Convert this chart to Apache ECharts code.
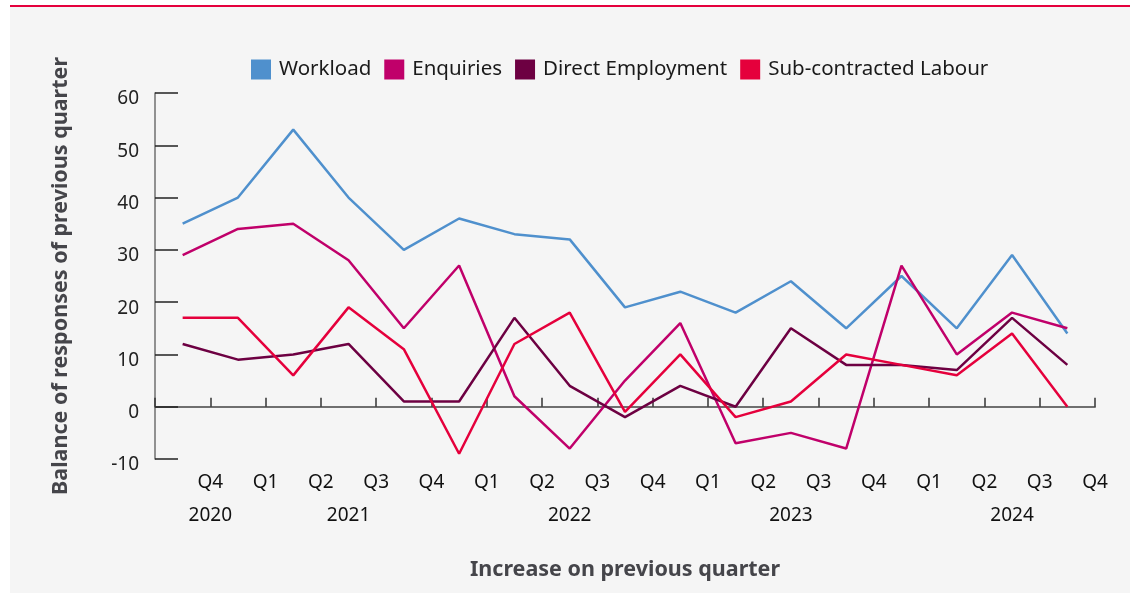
<!DOCTYPE html>
<html>
<head>
<meta charset="utf-8">
<script src="https://cdn.jsdelivr.net/npm/echarts@6/dist/echarts.min.js"></script>
<style>
  html, body { margin: 0; padding: 0; background: #ffffff; }
  #rule { position: absolute; left: 10px; top: 5px; width: 1120px; height: 2px; background: #e5003c; }
  #panel { position: absolute; left: 10px; top: 7px; width: 1120px; height: 586px; background: #f5f5f5; }
  #chart { position: absolute; left: 0; top: 0; width: 1130px; height: 593px; }
</style>
</head>
<body>
<div id="rule"></div>
<div id="panel"></div>
<div id="chart"></div>
<script>
// Survey quarters, Q4 2020 to Q4 2024
const quarters = ['Q4', 'Q1', 'Q2', 'Q3', 'Q4', 'Q1', 'Q2', 'Q3', 'Q4', 'Q1', 'Q2', 'Q3', 'Q4', 'Q1', 'Q2', 'Q3', 'Q4'];
const quarterYears = [2020, 2021, 2021, 2021, 2021, 2022, 2022, 2022, 2022, 2023, 2023, 2023, 2023, 2024, 2024, 2024, 2024];

// Balance of responses (%)
const workload = [35, 40, 53, 40, 30, 36, 33, 32, 19, 22, 18, 24, 15, 25, 15, 29, 14];
const enquiries = [29, 34, 35, 28, 15, 27, 2, -8, 5, 16, -7, -5, -8, 27, 10, 18, 15];
const directEmployment = [12, 9, 10, 12, 1, 1, 17, 4, -2, 4, 0, 15, 8, 8, 7, 17, 8];
const subContracted = [17, 17, 6, 19, 11, -9, 12, 18, -1, 10, -2, 1, 10, 8, 6, 14, 0];

const yTicks = { min: -10, max: 60, step: 10 };

// Quarter labels sit on the tick boundaries: slot 0 is blank, quarter i at slot i+1
const quarterSlots = [''].concat(quarters);

// Year labels centred under their quarters, on a half-step grid of boundaries
const yearSlots = new Array(2 * quarters.length + 1).fill('');
[...new Set(quarterYears)].forEach(function (yr) {
  const idx = [];
  quarterYears.forEach(function (q, i) { if (q === yr) idx.push(i + 1); });
  const mean = idx.reduce(function (a, b) { return a + b; }, 0) / idx.length;
  yearSlots[Math.round(mean * 2)] = String(yr);
});

const FONT = 'Noto Sans';
const colors = ['#4f90cd', '#c0006a', '#6d0042', '#e5003c'];

function line(name, data, color) {
  return {
    name: name,
    type: 'line',
    data: data,
    xAxisIndex: 0,
    symbol: 'none',
    lineStyle: { width: 2.5, color: color },
    itemStyle: { color: color }
  };
}

const chart = echarts.init(document.getElementById('chart'), null, { renderer: 'canvas' });
chart.setOption({
  backgroundColor: 'transparent',
  animation: false,
  textStyle: { fontFamily: FONT },
  legend: {
    top: 59,
    left: 251,
    padding: 0,
    itemWidth: 20,
    itemHeight: 20,
    itemGap: 13,
    icon: 'rect',
    textStyle: { fontFamily: FONT, fontSize: 20.5, color: '#1a1a1a', padding: [0, 0, 0, 3] },
    data: ['Workload', 'Enquiries', 'Direct Employment', 'Sub-contracted Labour']
  },
  grid: { left: 155, right: 35, top: 93, bottom: 134, containLabel: false, outerBoundsMode: 'none' },
  xAxis: [
    {
      type: 'category',
      data: quarters,
      boundaryGap: true,
      axisLine: { onZero: true, lineStyle: { color: '#6f6f6f', width: 2 } },
      axisTick: { show: true, inside: true, length: 9, interval: 0, lineStyle: { color: '#333', width: 1.5 } },
      axisLabel: { show: false },
      splitLine: { show: false },
      name: 'Increase on previous quarter',
      nameLocation: 'middle',
      nameGap: 100,
      nameTextStyle: { fontFamily: FONT, fontSize: 21.5, fontWeight: 'bold', color: '#45454a' }
    },
    {
      type: 'category',
      data: quarterSlots,
      boundaryGap: false,
      position: 'bottom',
      axisLine: { show: false, onZero: false },
      axisTick: { show: false },
      axisLabel: { interval: 0, margin: 14, fontFamily: FONT, fontSize: 19, color: '#111' },
      splitLine: { show: false }
    },
    {
      type: 'category',
      data: yearSlots,
      boundaryGap: false,
      position: 'bottom',
      axisLine: { show: false, onZero: false },
      axisTick: { show: false },
      axisLabel: { interval: 0, margin: 47, fontFamily: FONT, fontSize: 19, color: '#111' },
      splitLine: { show: false }
    }
  ],
  yAxis: {
    type: 'value',
    min: yTicks.min,
    max: yTicks.max,
    interval: yTicks.step,
    axisLine: { show: true, lineStyle: { color: '#6f6f6f', width: 1.5 } },
    axisTick: { show: true, inside: true, length: 23, lineStyle: { color: '#222', width: 1.5 } },
    axisLabel: {
      margin: 16,
      formatter: function (v) { return '{v|' + v + '}'; },
      rich: { v: { fontFamily: FONT, fontSize: 19, color: '#222', padding: [12, 0, 0, 0] } }
    },
    splitLine: { show: false },
    name: 'Balance of responses of previous quarter',
    nameLocation: 'middle',
    nameGap: 83,
    nameTextStyle: { fontFamily: FONT, fontSize: 21.5, fontWeight: 'bold', color: '#45454a' }
  },
  series: [
    line('Workload', workload, colors[0]),
    line('Enquiries', enquiries, colors[1]),
    line('Direct Employment', directEmployment, colors[2]),
    line('Sub-contracted Labour', subContracted, colors[3])
  ]
});
</script>
</body>
</html>
